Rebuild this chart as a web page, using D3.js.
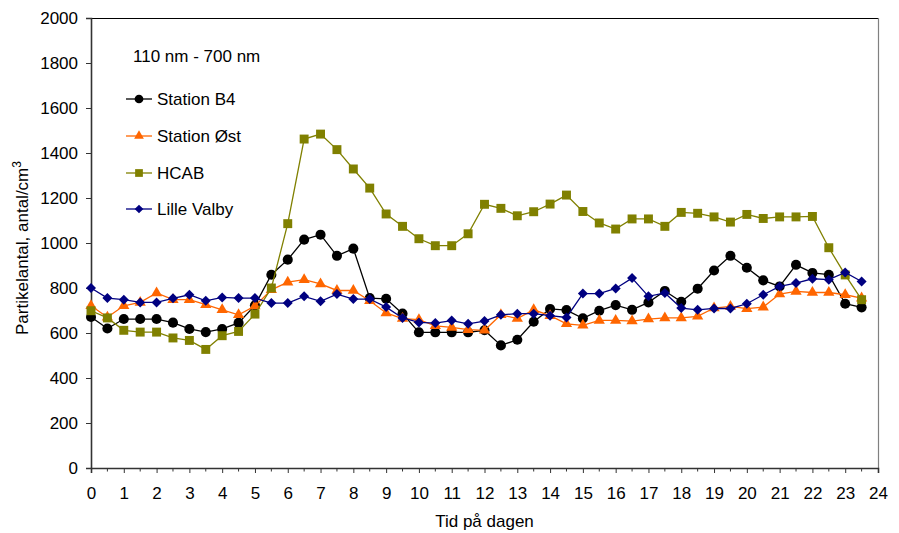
<!DOCTYPE html>
<html>
<head>
<meta charset="utf-8">
<script src="https://cdn.jsdelivr.net/npm/d3@7/dist/d3.min.js"></script>
<style>
  body { margin: 0; background: #fff; }
  svg { display: block; font-family: "Liberation Sans", Arial, sans-serif; }
</style>
</head>
<body>
<svg id="chart" width="899" height="533"></svg>
<script>
const hours = [0,0.5,1,1.5,2,2.5,3,3.5,4,4.5,5,5.5,6,6.5,7,7.5,8,8.5,9,9.5,10,10.5,11,11.5,12,12.5,13,13.5,14,14.5,15,15.5,16,16.5,17,17.5,18,18.5,19,19.5,20,20.5,21,21.5,22,22.5,23,23.5];

const stationB4 = [671,620,662,662,662,646,618,604,618,645,723,859,926,1015,1037,943,975,755,752,686,603,603,603,603,612,545,570,650,707,702,665,699,724,703,736,787,739,797,878,943,890,834,807,903,867,859,730,714];
const stationOst = [721,670,721,736,778,748,748,726,703,681,720,792,826,837,818,789,789,743,689,664,659,632,625,615,612,681,664,703,677,641,634,656,656,653,662,667,667,674,711,718,708,715,773,785,780,780,770,755];
const hcab = [699,667,612,604,604,578,567,527,588,607,684,800,1086,1462,1484,1415,1329,1244,1129,1074,1019,988,988,1041,1172,1154,1121,1139,1173,1213,1140,1089,1062,1107,1107,1074,1136,1132,1116,1093,1127,1109,1116,1116,1118,979,858,748];
const lilleValby = [800,755,748,736,736,754,770,743,758,755,755,733,733,763,741,773,751,751,715,667,647,644,655,641,653,681,686,686,677,669,775,775,798,844,763,778,711,703,709,709,730,770,807,822,841,837,869,829];

const seriesNames = ["Station B4", "Station Øst", "HCAB", "Lille Valby"];
const seriesValues = [stationB4, stationOst, hcab, lilleValby];
const seriesColors = ["#000000", "#FF6600", "#808000", "#000080"];
const seriesSymbols = [d3.symbolCircle, d3.symbolTriangle, d3.symbolSquare, d3.symbolSquare];
const symbolSizes = [80, 55, 80, 50];
const symbolRotations = [0, 0, 0, 45];

const xTicks = d3.range(0, 25, 1);
const yTicks = d3.range(0, 2001, 200);
const subtitle = "110 nm - 700 nm";
const xTitle = "Tid på dagen";

(function () {
const FS = 17;
const svg = d3.select("#chart");
const mLeft = 91, mRight = 878, mTop = 18, mBottom = 468;

const x = d3.scaleLinear().domain([0, 24]).range([mLeft, mRight]);
const y = d3.scaleLinear().domain([0, 2000]).range([mBottom, mTop]);

// frame top and right
svg.append("line").attr("x1", mLeft).attr("x2", mRight).attr("y1", mTop + 0.5).attr("y2", mTop + 0.5)
  .attr("stroke", "#000").attr("stroke-width", 1);
svg.append("line").attr("x1", mRight + 0.5).attr("x2", mRight + 0.5).attr("y1", mTop).attr("y2", mBottom)
  .attr("stroke", "#808080").attr("stroke-width", 1.2);

// minor x ticks
const minor = d3.range(0.5, 24, 1);
svg.append("g").selectAll("line").data(minor).join("line")
  .attr("x1", d => x(d)).attr("x2", d => x(d))
  .attr("y1", mBottom).attr("y2", mBottom + 3.5)
  .attr("stroke", "#333").attr("stroke-width", 1);

// x axis
const xAxis = svg.append("g").attr("transform", `translate(0,${mBottom})`)
  .call(d3.axisBottom(x).tickValues(xTicks).tickFormat(d3.format("d")).tickSizeOuter(0).tickSize(5).tickPadding(14));
xAxis.select(".domain").attr("stroke", "#333").attr("stroke-width", 1.6);
xAxis.selectAll(".tick line").attr("stroke", "#333").attr("stroke-width", 1);
xAxis.selectAll("text").attr("font-size", FS).attr("fill", "#000")
  .attr("font-family", "Liberation Sans, Arial, sans-serif");

// y axis
const yAxis = svg.append("g").attr("transform", `translate(${mLeft},0)`)
  .call(d3.axisLeft(y).tickValues(yTicks).tickFormat(d3.format("d")).tickSizeOuter(0).tickSize(5).tickPadding(8));
yAxis.select(".domain").attr("stroke", "#333").attr("stroke-width", 1.6);
yAxis.selectAll(".tick line").attr("stroke", "#333").attr("stroke-width", 1);
yAxis.selectAll("text").attr("font-size", FS).attr("fill", "#000")
  .attr("font-family", "Liberation Sans, Arial, sans-serif");

// series
const line = d3.line().x((d, i) => x(hours[i])).y(d => y(d));
seriesValues.forEach((vals, k) => {
  const g = svg.append("g");
  g.append("path").datum(vals).attr("d", line)
    .attr("fill", "none").attr("stroke", seriesColors[k]).attr("stroke-width", 1.3);
  g.selectAll("path.pt").data(vals).join("path").attr("class", "pt")
    .attr("transform", (d, i) => `translate(${x(hours[i])},${y(d)}) rotate(${symbolRotations[k]})`)
    .attr("d", d3.symbol().type(seriesSymbols[k]).size(symbolSizes[k]))
    .attr("fill", seriesColors[k]);
});

// subtitle
svg.append("text").attr("x", 133).attr("y", 62).attr("font-size", FS).text(subtitle);

// legend
const legY = [99, 136, 173, 209];
seriesNames.forEach((name, k) => {
  const g = svg.append("g").attr("transform", `translate(0,${legY[k]})`);
  g.append("line").attr("x1", 126).attr("x2", 152).attr("y1", 0).attr("y2", 0)
    .attr("stroke", seriesColors[k]).attr("stroke-width", 1.3);
  g.append("path").attr("transform", `translate(139,0) rotate(${symbolRotations[k]})`)
    .attr("d", d3.symbol().type(seriesSymbols[k]).size(symbolSizes[k] * 0.75))
    .attr("fill", seriesColors[k]);
  g.append("text").attr("x", 157).attr("y", 6).attr("font-size", FS).text(name);
});

// axis titles
svg.append("text").attr("x", x(12)).attr("y", 527).attr("text-anchor", "middle")
  .attr("font-size", FS).text(xTitle);

const yt = svg.append("text").attr("transform", "translate(28,248) rotate(-90)")
  .attr("text-anchor", "middle").attr("font-size", FS);
yt.append("tspan").text("Partikelantal, antal/cm");
yt.append("tspan").attr("dy", -7).attr("font-size", 12).text("3");
})();
</script>
</body>
</html>
